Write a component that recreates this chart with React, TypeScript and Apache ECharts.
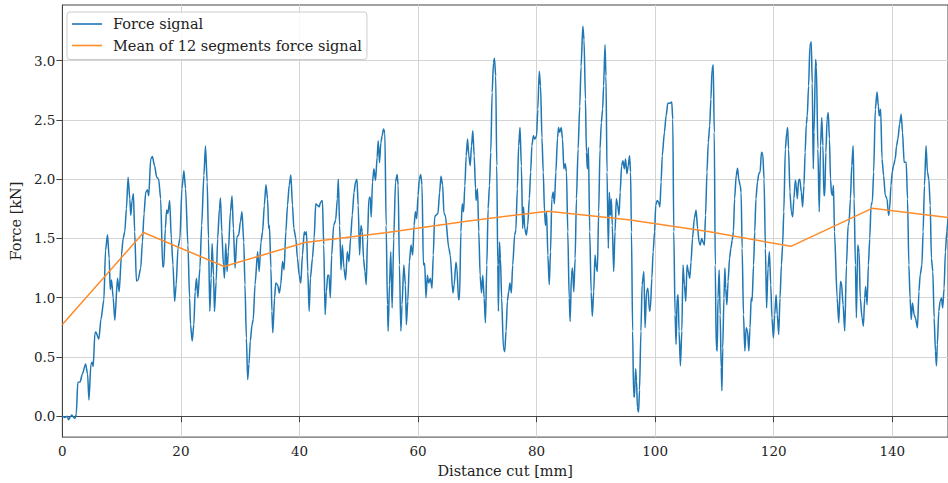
import React, { useEffect, useRef } from "react";
import * as echarts from "echarts";

// Force signal: distance cut [mm] and force [kN]
const forceX: number[] = [
  0, 0.4, 0.8, 1.05, 1.4, 1.6, 1.9, 2.15, 2.35, 2.6, 3.0, 3.36, 3.92, 4.26, 4.48, 4.82, 5.04, 5.2, 5.49, 5.64,
  6.16, 6.5, 7.0, 7.28, 7.62, 7.9, 8.07, 8.29, 8.57, 8.85, 9.3, 9.58, 9.97, 10.25, 10.53, 10.8, 11.09, 11.37, 11.54, 11.76,
  11.98, 12.2, 12.49, 12.77, 13.22, 13.5, 13.78, 14.06, 14.35, 14.57, 14.9, 15.18, 15.57, 15.9, 16.25, 16.58, 16.92, 17.1, 17.37, 17.59,
  17.8, 18.1, 18.38, 18.66, 18.94, 19.2, 19.5, 19.83, 20.17, 20.5, 20.78, 21.18, 21.46, 21.62, 21.9, 22.18, 22.4, 22.63, 22.86, 23.2,
  23.5, 23.87, 24.14, 24.43, 24.65, 24.87, 25.1, 25.26, 25.5, 25.66, 25.94, 26.2, 26.5, 26.67, 26.9, 27.17, 27.34, 27.56, 27.78, 28.0,
  28.35, 28.62, 28.85, 29.13, 29.46, 29.75, 30.03, 30.3, 30.6, 30.8, 31.04, 31.26, 31.48, 31.7, 32.0, 32.2, 32.5,
  32.94, 33.2, 33.5, 33.78, 34.07, 34.34, 34.62, 34.8, 34.93, 35.18, 35.35, 35.5, 35.8, 36.0, 36.3, 36.6, 36.84, 37.14, 37.4, 37.7,
  37.98, 38.27, 38.54, 38.82, 39.05, 39.38, 39.66, 39.95, 40.22, 40.5, 40.8, 40.94, 41.18, 41.4, 41.63, 41.85, 42.18, 42.47, 42.74, 43.02,
  43.3, 43.58, 43.87, 44.09, 44.32, 44.54, 44.76, 44.98, 45.2, 45.43, 45.77, 46.1, 46.39, 46.55, 46.77, 47.0, 47.23, 47.5, 47.78, 48.07,
  48.35, 48.62, 48.9, 49.2, 49.46, 49.7, 49.9, 50.14, 50.37, 50.6, 50.8, 51.04, 51.26, 51.48, 51.7, 51.93, 52.1, 52.32, 52.55, 52.83,
  53.1, 53.28, 53.5, 53.73, 53.95, 54.17, 54.4, 54.62, 54.84, 54.96, 55.18, 55.4, 55.63, 55.9, 56.2, 56.47, 56.64, 56.86, 57.1, 57.3,
  57.6, 57.87, 58.03, 58.27, 58.54, 58.82, 59.1, 59.33, 59.55, 59.78, 60.0, 60.22, 60.45, 60.67, 60.9, 61.12, 61.34, 61.57, 61.8, 62.07,
  62.35, 62.57, 62.8, 63.0, 63.36, 63.64, 63.87, 64.15, 64.37, 64.59,
  65.2, 65.43, 65.88, 66.1, 66.39, 66.55, 66.84, 67.0, 67.23, 67.45, 67.68, 67.9, 68.12, 68.35, 68.57, 68.8, 69.02, 69.24, 69.47, 69.7,
  69.8, 70.03, 70.25, 70.47, 70.7, 70.92, 71.15, 71.37, 71.6, 71.82, 72.05, 72.27, 72.5, 72.72, 72.89, 73.1, 73.28, 73.45, 73.56, 73.73,
  73.9, 74.1, 74.4, 74.62, 74.85, 75.07, 75.3, 75.5, 75.74, 75.97, 76.3, 76.5, 76.75, 76.97, 77.2, 77.43, 77.65, 77.8, 78.0, 78.27,
  78.5, 78.77, 79.0, 79.2, 79.45, 79.7, 80.0, 80.2, 80.45, 80.67, 80.9, 81.12, 81.34, 81.5, 81.68, 81.9, 82.13, 82.35, 82.57, 82.8,
  83.0, 83.25, 83.53, 83.7, 83.9, 84.15, 84.37, 84.6, 84.82, 85.04, 85.26, 85.5, 85.66, 85.88, 86.05, 86.27, 86.5, 86.72, 87.0, 87.28,
  87.5, 87.8, 88.0, 88.24, 88.4, 88.57, 88.74, 88.96, 89.2, 89.4, 89.63, 89.86, 90.08, 90.25, 90.47, 90.7, 90.92, 91.14, 91.3, 91.54,
  91.7, 91.88, 92.1, 92.27, 92.44, 92.6, 92.77, 93.0, 93.23, 93.45, 93.67, 93.9, 94.1, 94.34, 94.57, 94.8, 95.0, 95.24, 95.46, 95.68,
  95.85, 96.0, 96.2, 96.36, 96.5, 96.7, 96.86, 97.0, 97.2, 97.36, 97.6, 97.8,
  98.1, 98.3, 98.55, 98.77, 99.05, 99.2, 99.44, 99.66, 99.9, 100.1, 100.34, 100.56, 100.8, 101.0, 101.2, 101.56, 101.85, 102.13, 102.47, 102.8,
  102.97, 103.14, 103.36, 103.53, 103.7, 103.87, 104.03, 104.26, 104.5, 104.7, 104.93, 105.16, 105.38, 105.6, 105.83, 106.05, 106.3, 106.6, 106.9, 107.17,
  107.4, 107.6, 107.85, 108.07, 108.3, 108.5, 108.74, 108.96, 109.2, 109.4, 109.6, 109.8, 109.97, 110.14, 110.3, 110.47, 110.6, 110.8, 110.97, 111.14,
  111.26, 111.4, 111.6, 111.76, 111.9, 112.1, 112.3, 112.55, 112.77, 113.0, 113.2, 113.4, 113.67, 113.9, 114.1, 114.34, 114.5, 114.67, 114.9, 115.13,
  115.35, 115.58, 115.8, 116.0, 116.2, 116.35, 116.6, 116.8, 117.0, 117.26, 117.48, 117.7, 117.93, 118.15, 118.37, 118.6, 118.8, 119.04, 119.27, 119.5,
  119.7, 119.95, 120.17, 120.4, 120.6, 120.84, 121.06, 121.3, 121.5, 121.7, 121.96, 122.2, 122.35, 122.5, 122.74, 122.97, 123.2, 123.4, 123.65, 123.8,
  123.98, 124.2, 124.4, 124.65, 124.87, 125.1, 125.3, 125.5, 125.66, 125.88, 126.1, 126.33, 126.5, 126.67, 126.8, 127.06, 127.2, 127.45, 127.68, 127.9,
  128.1, 128.3, 128.46, 128.6, 128.8, 129.0, 129.2, 129.4, 129.58, 129.75, 129.9, 130.08,
  130.25, 130.7, 130.97, 131.26, 131.43, 131.7, 131.98, 132.27, 132.55, 132.7, 132.94, 133.16, 133.4, 133.56, 133.78, 133.95, 134.17, 134.4, 134.6, 134.9,
  135.13, 135.35, 135.5, 135.75, 135.97, 136.2, 136.42, 136.64, 136.86, 137.14, 137.43, 137.65, 137.8, 138.04, 138.27, 138.54, 138.82, 139.1, 139.38, 139.55,
  139.78, 140.0, 140.2, 140.5, 140.72, 140.95, 141.23, 141.5, 141.73, 142.0, 142.35, 142.57, 142.8, 143.0, 143.2, 143.4, 143.7, 143.9, 144.25, 144.5,
  144.7, 145.0, 145.2, 145.43, 145.7, 145.93, 146.17, 146.4, 146.6, 146.84, 147.06, 147.28, 147.45, 147.6, 147.85, 148.07, 148.3, 148.5, 148.74, 148.96,
  149.2, 149.4,
];

const forceY: number[] = [
  0.0, -0.01, 0.0, -0.03, 0.0, 0.01, -0.01, -0.02, 0.02, 0.285, 0.29, 0.355, 0.44, 0.355, 0.137, 0.44, 0.455, 0.42, 0.7, 0.71,
  0.65, 0.815, 0.98, 1.4, 1.53, 1.33, 1.07, 1.15, 1.0, 0.81, 1.165, 1.05, 1.36, 1.5, 1.556, 1.75, 2.017, 1.835, 1.695, 1.82,
  1.877, 1.556, 1.14, 1.15, 1.25, 1.47, 1.71, 1.89, 1.91, 1.86, 2.17, 2.19, 2.11, 2.017, 2.0, 1.835, 1.26, 1.26, 1.584, 1.74,
  1.71, 1.82, 1.5, 1.276, 0.97, 1.11, 1.416, 1.5, 1.92, 2.07, 1.92, 1.444, 1.0, 0.773, 0.634, 0.773, 1.053, 1.165, 1.0, 1.25,
  1.61, 2.03, 2.28, 1.975, 1.5, 0.885, 1.165, 1.458, 1.19, 0.885, 1.137, 1.5, 1.75, 1.84, 1.556, 1.276, 1.165, 1.458, 1.22, 1.388,
  1.724, 1.858, 1.584, 1.25, 1.514, 1.53, 1.64, 1.724, 1.47, 1.11, 0.66, 0.31, 0.44, 0.634, 0.773, 0.815, 1.11,
  1.388, 1.22, 1.47, 1.556, 1.78, 1.953, 1.835, 1.584, 1.61, 1.25, 0.885, 0.704, 1.0, 1.123, 1.11, 1.04, 1.11, 1.305, 1.235, 1.556,
  1.78, 1.95, 2.036, 1.78, 1.584, 1.5, 1.332, 1.19, 1.123, 1.36, 1.556, 1.53, 1.556, 1.22, 0.885, 1.165, 1.332, 1.5, 1.793, 1.78,
  1.766, 1.807, 1.82, 1.444, 0.857, 1.053, 1.19, 1.19, 1.0, 1.36, 1.61, 1.654, 1.835, 2.0, 1.61, 1.235, 1.444, 1.25, 1.15, 1.388,
  1.305, 1.5, 1.695, 1.89, 1.975, 2.0, 1.78, 1.36, 1.61, 1.556, 1.332, 1.22, 1.11, 1.5, 1.835, 1.85, 1.68, 1.975, 2.087, 1.99,
  2.185, 2.324, 2.14, 2.31, 2.366, 2.422, 2.394, 1.61, 0.941, 0.718, 1.11, 1.388, 0.913, 1.5, 1.975, 2.04, 1.95, 1.276, 0.718, 0.941,
  1.276, 1.11, 0.773, 0.969, 1.305, 1.444, 1.36, 1.61, 1.724, 1.668, 1.863, 2.0, 2.04, 1.95, 1.276, 1.29, 1.0, 1.19, 1.123, 1.165,
  1.08, 1.36, 1.68, 1.695, 1.71, 1.89, 2.025, 1.95, 1.71, 1.695,
  1.416, 1.36, 1.04, 1.11, 1.3, 1.25, 0.983, 0.997, 1.556, 1.793, 1.724, 1.947, 2.198, 2.338, 2.198, 2.114, 2.282, 2.408, 2.198, 1.92,
  1.82, 1.92, 1.556, 1.19, 1.04, 1.19, 0.997, 0.788, 1.276, 1.75, 1.947, 2.226, 2.73, 2.98, 3.02, 2.87, 2.114, 1.276, 0.885, 1.47,
  1.33, 0.997, 0.578, 0.545, 0.718, 0.97, 1.05, 1.123, 1.04, 1.276, 1.528, 1.57, 1.92, 2.282, 2.436, 2.114, 1.584, 1.766, 1.584, 1.528,
  1.61, 1.835, 2.06, 2.282, 2.366, 2.338, 2.366, 2.59, 2.91, 2.785, 2.35, 2.06, 1.724, 1.61, 1.724, 1.36, 1.11, 1.388, 1.835, 1.891,
  1.793, 2.06, 2.35, 2.436, 2.394, 2.436, 2.338, 2.087, 2.13, 2.06, 1.556, 0.997, 0.8, 1.19, 1.25, 1.05, 1.33, 1.835, 2.254, 2.617,
  2.95, 3.29, 3.176, 2.673, 2.226, 2.087, 2.268, 1.556, 1.05, 0.843, 1.05, 1.36, 1.25, 1.22, 1.724, 2.254, 2.478, 2.59, 2.785, 3.134,
  2.87, 2.06, 1.416, 1.89, 1.695, 1.835, 1.61, 1.22, 1.556, 1.835, 1.78, 1.695, 1.891, 2.114, 2.156, 2.087, 2.17, 2.045, 2.114, 2.198,
  2.06, 1.556, 0.718, 0.187, 0.16, 0.4, 0.3, 0.075, 0.034, 0.22, 0.718, 1.11,
  1.22, 0.746, 1.05, 1.08, 0.885, 0.913, 1.165, 1.388, 1.556, 1.78, 1.82, 1.807, 1.766, 1.975, 2.198, 2.394, 2.534, 2.64, 2.64, 2.65,
  2.506, 1.556, 0.857, 0.606, 0.997, 1.025, 0.718, 0.425, 0.718, 1.276, 1.11, 0.97, 1.276, 1.22, 1.165, 1.3, 1.5, 1.668, 1.738, 1.584,
  1.47, 1.444, 1.5, 1.47, 1.444, 1.695, 2.06, 2.31, 2.45, 2.673, 2.925, 2.966, 2.394, 1.276, 0.578, 0.55, 0.997, 1.234, 0.857, 0.41,
  0.215, 0.578, 0.997, 1.25, 1.08, 0.941, 1.137, 1.332, 1.416, 1.486, 1.556, 1.835, 2.03, 2.092, 2.0, 1.947, 1.89, 1.416, 0.857, 0.55,
  0.746, 0.718, 0.55, 0.746, 0.997, 0.97, 1.276, 1.556, 1.835, 1.975, 2.045, 2.06, 2.226, 2.212, 2.0, 1.416, 0.913, 1.25, 1.388, 1.11,
  0.83, 0.66, 0.857, 1.025, 0.857, 0.69, 0.997, 1.276, 1.444, 1.724, 2.254, 2.394, 2.436, 2.254, 1.891, 1.724, 1.682, 1.835, 1.99, 1.947,
  1.835, 1.99, 2.0, 1.891, 1.766, 1.947, 2.226, 2.464, 2.534, 2.785, 3.12, 3.16, 2.81, 2.087, 2.394, 3.01, 2.95, 2.254, 1.724, 2.282,
  2.52, 2.282, 1.863, 1.863, 2.226, 2.506, 2.562, 2.338, 2.0, 1.877, 1.863, 1.947,
  1.556, 0.997, 0.788, 1.137, 1.123, 0.941, 0.718, 1.276, 1.612, 1.626, 1.835, 2.114, 2.282, 1.835, 1.276, 0.83, 1.444, 1.388, 0.997, 0.83,
  0.76, 0.997, 1.095, 0.941, 1.276, 1.5, 1.78, 1.81, 2.06, 2.59, 2.735, 2.617, 2.534, 2.59, 2.17, 2.03, 1.863, 1.835, 1.695, 1.75,
  1.947, 2.06, 2.114, 2.17, 2.282, 2.338, 2.464, 2.548, 2.394, 2.142, 2.142, 1.835, 1.276, 0.997, 0.815, 0.955, 0.857, 0.83, 0.746, 1.053,
  1.19, 1.276, 1.556, 1.947, 2.282, 2.06, 2.0, 1.78, 1.332, 1.22, 0.83, 0.55, 0.425, 0.606, 0.885, 0.97, 0.997, 0.913, 1.08, 1.388,
  1.556, 1.668,
];

// Mean of 12 segments
const meanX: number[] = [0, 13.7, 27.3, 40.9, 54.5, 68.2, 81.9, 95.5, 109.2, 122.9, 136.6, 149.4];
const meanY: number[] = [0.773, 1.55, 1.263, 1.466, 1.548, 1.645, 1.73, 1.657, 1.556, 1.433, 1.754, 1.676];

const xTicks: number[] = [0, 20, 40, 60, 80, 100, 120, 140];
const yTicks: number[] = [0, 0.5, 1.0, 1.5, 2.0, 2.5, 3.0];

const FONT = '"DejaVu Serif", "Liberation Serif", serif';

export default function App() {
  const ref = useRef<HTMLDivElement>(null);

  useEffect(() => {
    if (!ref.current) return;
    const chart = echarts.init(ref.current, null, { renderer: "svg" });
    const n = Math.min(forceX.length, forceY.length);
    const forceData: number[][] = [];
    for (let i = 0; i < n; i++) forceData.push([forceX[i], forceY[i]]);
    const meanData = meanX.map((x, i) => [x, meanY[i]]);

    chart.setOption({
      animation: false,
      backgroundColor: "#ffffff",
      grid: {
        left: 59,
        top: 5,
        right: 0,
        bottom: 43,
        show: true,
        borderColor: "#444444",
        borderWidth: 1,
        containLabel: false,
      },
      legend: {
        orient: "vertical",
        left: 67,
        top: 12,
        icon: "rect",
        itemWidth: 30,
        itemHeight: 1.6,
        itemGap: 5.5,
        padding: [4, 5, 6, 5],
        backgroundColor: "rgba(255,255,255,0.85)",
        borderColor: "#cccccc",
        borderWidth: 1,
        borderRadius: 3,
        textStyle: {
          fontFamily: FONT,
          fontSize: 14.5,
          color: "#222222",
          lineHeight: 16,
          padding: [0, 0, 0, 6],
        },
        data: ["Force signal", "Mean of 12 segments force signal"],
      },
      xAxis: {
        type: "value",
        min: 0,
        max: 149.4,
        name: "Distance cut [mm]",
        nameLocation: "middle",
        nameGap: 24,
        nameTextStyle: { fontFamily: FONT, fontSize: 14.5, color: "#222222" },
        axisLine: { show: true, lineStyle: { color: "#444444", width: 1 } },
        axisTick: { show: true, inside: false, length: 6, lineStyle: { color: "#444444" }, customValues: xTicks },
        axisLabel: {
          fontFamily: FONT,
          fontSize: 13.5,
          color: "#222222",
          margin: 7,
          customValues: xTicks,
          formatter: (v: number) => String(Math.round(v)),
        },
        splitLine: { show: true, lineStyle: { color: "#d4d4d4", width: 1 } },
      },
      yAxis: {
        type: "value",
        min: -0.176,
        max: 3.469,
        name: "Force [kN]",
        nameLocation: "middle",
        nameGap: 25,
        nameRotate: 90,
        nameTextStyle: { fontFamily: FONT, fontSize: 14.5, color: "#222222" },
        axisLine: { show: true, lineStyle: { color: "#444444", width: 1 } },
        axisTick: { show: true, inside: false, length: 6, lineStyle: { color: "#444444" }, customValues: yTicks },
        axisLabel: {
          fontFamily: FONT,
          fontSize: 13.5,
          color: "#222222",
          margin: 7,
          customValues: yTicks,
          formatter: (v: number) => v.toFixed(1),
        },
        splitLine: { show: true, lineStyle: { color: "#d4d4d4", width: 1 } },
      },
      series: [
        {
          name: "Force signal",
          type: "line",
          data: forceData,
          symbol: "none",
          smooth: 0.25,
          smoothMonotone: "x",
          color: "#1f77b4",
          lineStyle: { color: "#1f77b4", width: 1.5 },
          z: 2,
        },
        {
          name: "Mean of 12 segments force signal",
          type: "line",
          data: meanData,
          symbol: "none",
          color: "#ff8c2a",
          lineStyle: { color: "#ff8c2a", width: 1.5 },
          z: 3,
        },
      ],
    });

    return () => {
      chart.dispose();
    };
  }, []);

  return (
    <div
      ref={ref}
      style={{ position: "absolute", left: 0, top: 0, width: 948, height: 483 }}
    />
  );
}
